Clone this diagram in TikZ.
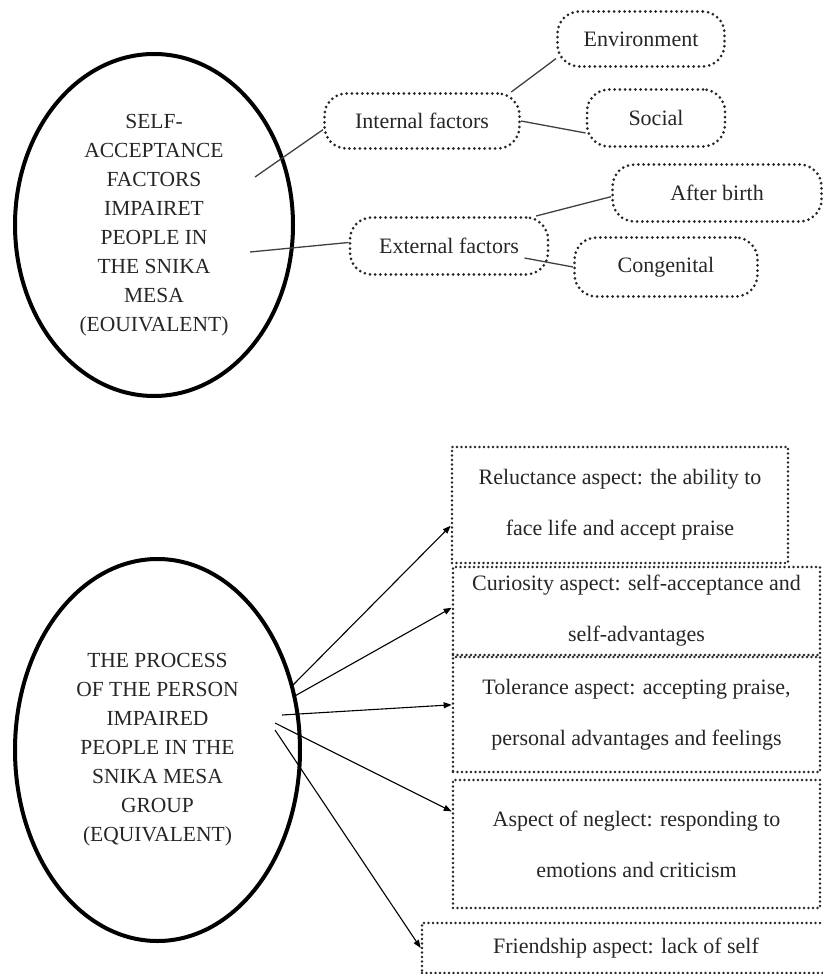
\documentclass[tikz,border=0pt]{standalone}
\usepackage{fontspec}
\setmainfont{Liberation Serif}
\usetikzlibrary{arrows.meta,calc,shapes.geometric}
\definecolor{Ink}{HTML}{262626}
\definecolor{Wire}{HTML}{404040}

\begin{document}
\begin{tikzpicture}[x=1pt,y=-1pt,>={Triangle[length=8pt,width=6pt]},
  bigoval/.style={ellipse,draw=black,line width=4pt,inner sep=0pt,text=Ink,align=center,font=\fontsize{21.5}{29}\selectfont},
  bubble/.style={draw=Ink,rounded corners=22pt,line width=3pt,dash pattern=on 0pt off 5.2pt,line cap=round,text=Ink,inner sep=0pt,font=\fontsize{22}{26}\selectfont},
  aspect/.style={draw=Ink,line width=2.7pt,dash pattern=on 0pt off 4.5pt,line cap=round,text=Ink,inner sep=0pt,align=center,font=\fontsize{22}{51}\selectfont},
  link/.style={Wire,line width=1.3pt},
  pointer/.style={->,black,line width=1.1pt}]
\useasboundingbox (0,0) rectangle (822,974);
\node[bigoval,minimum width=278,minimum height=342] (acc) at (154,225) {SELF-\\ACCEPTANCE\\FACTORS\\IMPAIRET\\PEOPLE IN\\THE SNIKA\\MESA\\(EOUIVALENT)};
\node[bubble,minimum width=195,minimum height=55] (int) at (422,121) {Internal factors};
\node[bubble,minimum width=198,minimum height=57] (ext) at (449,246) {External factors};
\node[bubble,minimum width=167,minimum height=55] (env) at (641,39) {Environment};
\node[bubble,minimum width=138,minimum height=57] (soc) at (656,118) {Social};
\node[bubble,minimum width=209,minimum height=57] (aft) at (717,193) {After birth};
\node[bubble,minimum width=183,minimum height=59] (con) at (666,267) {Congenital};
\coordinate (a1) at (255,177);
\coordinate (a2) at (250,252);
\draw[link] (a1) -- (int.185);
\draw[link] (a2) -- (ext.178);
\draw[link] (int.18) -- (env.193);
\draw[link] (int.east) -- (soc.192);
\draw[link] (ext.19) -- (aft.182);
\draw[link] ($(ext.east)+(-25,12)$) -- (con.west);
\node[bigoval,minimum width=285,minimum height=382] (proc) at (157.5,750) {THE PROCESS\\OF THE PERSON\\IMPAIRED\\PEOPLE IN THE\\SNIKA MESA\\GROUP\\(EQUIVALENT)};
\node[aspect,minimum width=336,minimum height=116] (rel) at (620,505) {Reluctance aspect: the ability to\\face life and accept praise};
\node[aspect,minimum width=367,minimum height=88] (cur) at (636.5,611) {Curiosity aspect: self-acceptance and\\self-advantages};
\node[aspect,minimum width=367,minimum height=115] (tol) at (636.5,714.5) {Tolerance aspect: accepting praise,\\personal advantages and feelings};
\node[aspect,minimum width=367,minimum height=128] (neg) at (636.5,844) {Aspect of neglect: responding to\\emotions and criticism};
\node[aspect,minimum width=408,minimum height=50] (fri) at (626,948) {Friendship aspect: lack of self};
\coordinate (p1) at (293,685);
\coordinate (p2) at (293,697);
\coordinate (p3) at (282,715);
\coordinate (p4) at (275,723);
\coordinate (p5) at (275,730);
\draw[pointer] (p1) -- (rel.187);
\draw[pointer] (p2) -- (cur.179);
\draw[pointer] (p3) -- (tol.177);
\draw[pointer] (p4) -- (neg.170);
\draw[pointer] (p5) -- (fri.west);
\end{tikzpicture}
\end{document}
